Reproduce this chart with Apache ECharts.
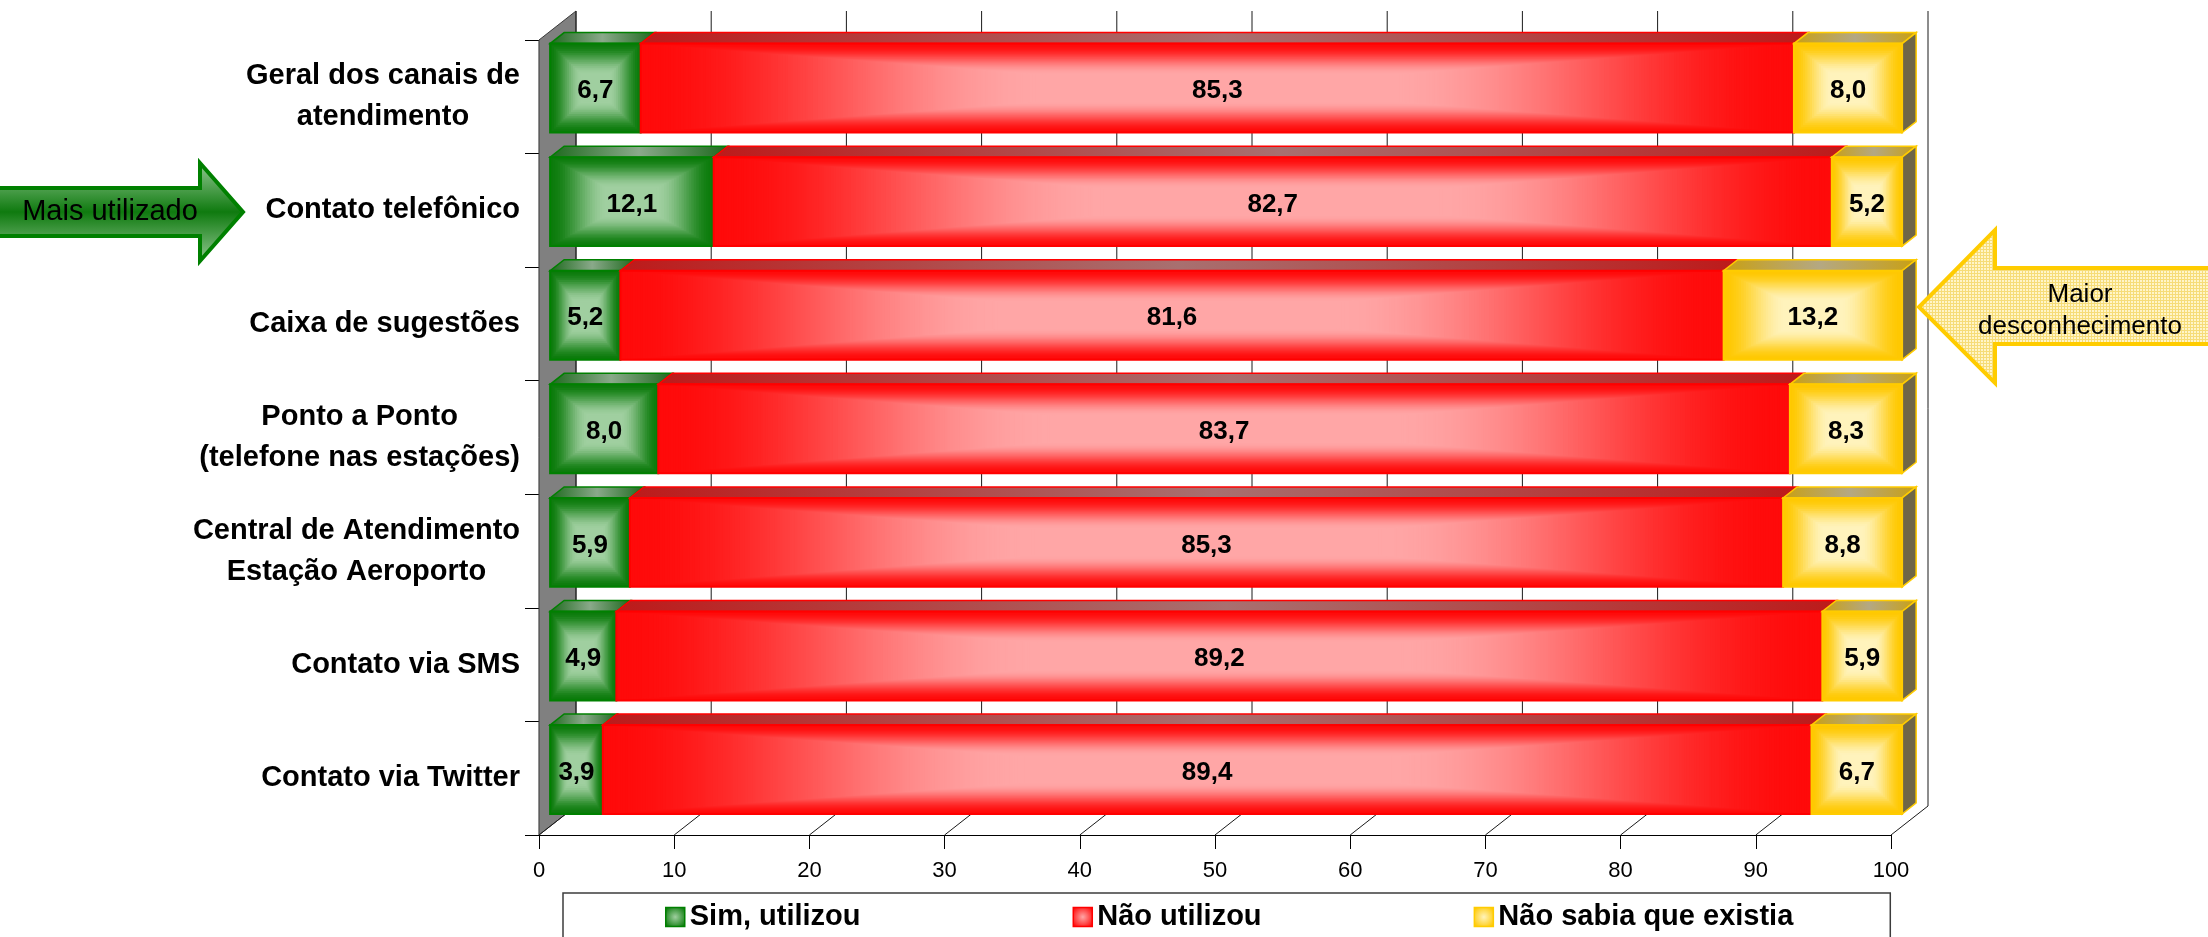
<!DOCTYPE html>
<html>
<head>
<meta charset="utf-8">
<title>Canais de atendimento</title>
<script src="https://cdn.jsdelivr.net/npm/echarts@6.0.0/dist/echarts.min.js"></script>
<style>
  html, body { margin: 0; padding: 0; background: #ffffff; }
  #chart { width: 2208px; height: 937px; }
</style>
</head>
<body>
<div id="chart"></div>
<script>
// ---- data ----
const categories = [
  'Geral dos canais de\natendimento',
  'Contato telefônico',
  'Caixa de sugestões',
  'Ponto a Ponto\n(telefone nas estações)',
  'Central de Atendimento\nEstação Aeroporto',
  'Contato via SMS',
  'Contato via Twitter'
];
const simUtilizou = [6.7, 12.1, 5.2, 8.0, 5.9, 4.9, 3.9];
const naoUtilizou = [85.3, 82.7, 81.6, 83.7, 85.3, 89.2, 89.4];
const naoSabia    = [8.0, 5.2, 13.2, 8.3, 8.8, 5.9, 6.7];
const seriesNames = ['Sim, utilizou', 'Não utilizou', 'Não sabia que existia'];
const xTicks = [0, 10, 20, 30, 40, 50, 60, 70, 80, 90, 100];

// ---- 3D look: depth of the floor/walls and where the bars sit in it ----
const DEPTH_X = 37, DEPTH_Y = -29;
const BAR_FRONT = 0.30, BAR_BACK = 0.68;
const BAR_RATIO = 0.783;
const FONT = '"Liberation Sans", Arial, sans-serif';

const palettes = [
  { edge: '#0b7b0b', light: '#a0cfa0', stroke: '#008000',
    topEnd: '#1d691d', topMid: '#8aa98a' },
  { edge: '#ff0a0a', light: '#ffa6a6', stroke: '#ff0000',
    topEnd: '#bd1a1a', topMid: '#a87070' },
  { edge: '#ffc800', light: '#fff3bc', stroke: '#ffcc00',
    topEnd: '#c9a012', topMid: '#b4a883' }
];

function hexToRgb(h) {
  const n = parseInt(h.slice(1), 16);
  return [(n >> 16) & 255, (n >> 8) & 255, n & 255];
}
function mix(a, b, t) {
  const A = hexToRgb(a), B = hexToRgb(b);
  return 'rgb(' + A.map((v, i) => Math.round(v + (B[i] - v) * t)).join(',') + ')';
}

// rectangular ("pillow") gradient built from nested rectangles
function pillow(x, y, w, h, edge, light) {
  const steps = Math.max(24, Math.ceil(Math.max(w, h) / 5));
  const out = [];
  for (let i = 0; i < steps; i++) {
    const t = i / steps;
    const ix = t * w / 2, iy = t * h / 2;
    let f = Math.min(1, (t + 0.5 / steps) / 0.7);
    f = f * f * (3 - 2 * f);
    out.push({
      type: 'rect',
      shape: { x: x + ix, y: y + iy, width: w - 2 * ix, height: h - 2 * iy },
      style: { fill: mix(edge, light, f) }
    });
    if (f >= 1) break;
  }
  return out;
}

function fmt(v) { return v.toFixed(1).replace('.', ','); }

// stacked segments: [row, start, value]
const seriesValues = [simUtilizou, naoUtilizou, naoSabia];
const segData = seriesValues.map((vals, k) =>
  vals.map((v, i) => {
    let start = 0;
    for (let j = 0; j < k; j++) start += seriesValues[j][i];
    return [i, start, v];
  })
);

function makeSegmentRenderer(k) {
  const pal = palettes[k];
  const isLast = k === seriesValues.length - 1;
  return function (params, api) {
    const row = api.value(0), start = api.value(1), val = api.value(2);
    const p0 = api.coord([start, row]);
    const p1 = api.coord([start + val, row]);
    const band = api.size([0, 1])[1];
    const h = band * BAR_RATIO;
    const fx = DEPTH_X * BAR_FRONT, fy = DEPTH_Y * BAR_FRONT;
    const bx = DEPTH_X * (BAR_BACK - BAR_FRONT), by = DEPTH_Y * (BAR_BACK - BAR_FRONT);
    const x0 = p0[0] + fx, x1 = p1[0] + fx;
    const yc = p0[1] + fy, yt = yc - h / 2, yb = yc + h / 2;
    const w = x1 - x0;
    const children = [];
    // top face
    children.push({
      type: 'polygon',
      shape: { points: [[x0, yt], [x1, yt], [x1 + bx, yt + by], [x0 + bx, yt + by]] },
      style: {
        fill: { type: 'linear', x: 0, y: 0, x2: 1, y2: 0, colorStops: [
          { offset: 0, color: pal.topEnd },
          { offset: 0.5, color: pal.topMid },
          { offset: 1, color: pal.topEnd }
        ] },
        stroke: pal.stroke, lineWidth: 1.5
      }
    });
    // right side face (only visible at the end of the stack)
    if (isLast) {
      children.push({
        type: 'polygon',
        shape: { points: [[x1, yt], [x1 + bx, yt + by], [x1 + bx, yb + by], [x1, yb]] },
        style: { fill: '#6f6647', stroke: pal.stroke, lineWidth: 1.5 }
      });
    }
    // front face
    pillow(x0, yt, w, h, pal.edge, pal.light).forEach(c => children.push(c));
    children.push({
      type: 'rect',
      shape: { x: x0, y: yt, width: w, height: h },
      style: { fill: 'none', stroke: pal.stroke, lineWidth: 2 }
    });
    // value label
    children.push({
      type: 'text',
      style: {
        text: fmt(val), x: (x0 + x1) / 2, y: yc + 3,
        align: 'center', verticalAlign: 'middle',
        font: 'bold 26px ' + FONT, fill: '#000'
      }
    });
    return { type: 'group', children };
  };
}

// walls, floor and grid drawn from the axis scales
function renderFrame(params, api) {
  const cs = params.coordSys;
  const L = cs.x, T = cs.y, B = cs.y + cs.height;
  const R = api.coord([xTicks[xTicks.length - 1], 0])[0];
  const children = [];
  children.push({
    type: 'polygon',
    shape: { points: [[L, B], [R, B], [R + DEPTH_X, B + DEPTH_Y], [L + DEPTH_X, B + DEPTH_Y]] },
    style: { fill: '#ffffff' }
  });
  children.push({
    type: 'polygon',
    shape: { points: [[L, T], [L + DEPTH_X, T + DEPTH_Y], [L + DEPTH_X, B + DEPTH_Y], [L, B]] },
    style: { fill: '#808080', stroke: '#3a3a3a', lineWidth: 1 }
  });
  xTicks.forEach(v => {
    const x = api.coord([v, 0])[0];
    children.push({
      type: 'line',
      shape: { x1: x + DEPTH_X, y1: T + DEPTH_Y, x2: x + DEPTH_X, y2: B + DEPTH_Y },
      style: { stroke: '#1a1a1a', lineWidth: 1 }
    });
    children.push({
      type: 'line',
      shape: { x1: x, y1: B, x2: x + DEPTH_X, y2: B + DEPTH_Y },
      style: { stroke: '#1a1a1a', lineWidth: 1 }
    });
  });
  return { type: 'group', children };
}

// soft yellow hatch for the callout arrow
const hatch = document.createElement('canvas');
hatch.width = 3; hatch.height = 3;
(function () {
  const g = hatch.getContext('2d');
  g.fillStyle = '#fff5c8'; g.fillRect(0, 0, 3, 3);
  g.fillStyle = '#f6dc78'; g.fillRect(0, 0, 3, 1); g.fillRect(0, 0, 1, 3);
})();

const chart = echarts.init(document.getElementById('chart'), null, { renderer: 'canvas' });

const option = {
  backgroundColor: '#ffffff',
  animation: false,
  grid: { left: 539, top: 40, width: 1352, height: 795, containLabel: false, outerBoundsMode: 'none' },
  xAxis: {
    type: 'value', min: 0, max: 100, interval: 10,
    axisLine: { show: true, lineStyle: { color: '#000', width: 1.2 } },
    axisTick: { show: true, length: 14, lineStyle: { color: '#000' } },
    splitLine: { show: false },
    axisLabel: { fontSize: 22, fontFamily: FONT, color: '#000', margin: 25 }
  },
  yAxis: {
    type: 'category', data: categories, inverse: true,
    axisLine: { show: true, lineStyle: { color: '#000', width: 1.2 } },
    axisTick: { show: true, length: 14, lineStyle: { color: '#000' } },
    splitLine: { show: false },
    axisLabel: {
      margin: 19, align: 'right',
      formatter: v => v.split('\n').map(l => '{c|' + l + '}').join('\n'),
      rich: {
        c: { align: 'center', fontSize: 29, fontWeight: 'bold', fontFamily: FONT,
             color: '#000', lineHeight: 41 }
      }
    }
  },
  legend: {
    left: 563, top: 893,
    padding: [9, 97, 30, 102],
    borderColor: '#3c3c3c', borderWidth: 1.5,
    itemWidth: 19, itemHeight: 19, itemGap: 212,
    textStyle: { fontSize: 29, fontWeight: 'bold', fontFamily: FONT, color: '#000', lineHeight: 30 },
    data: seriesNames.map((n, k) => ({
      name: n, icon: 'rect',
      itemStyle: {
        color: { type: 'radial', x: 0.5, y: 0.5, r: 0.6, colorStops: [
          { offset: 0, color: palettes[k].light }, { offset: 1, color: palettes[k].edge }
        ] },
        borderColor: palettes[k].stroke, borderWidth: 1.5
      }
    }))
  },
  series: [
    {
      type: 'custom', name: 'frame', coordinateSystem: 'cartesian2d',
      silent: true, data: [[0, 0]], encode: { x: 0, y: 1 },
      renderItem: renderFrame, z: 1
    }
  ].concat(seriesNames.map((n, k) => ({
    type: 'custom', name: n, coordinateSystem: 'cartesian2d',
    data: segData[k], encode: { y: 0, x: [1, 2] },
    itemStyle: { color: palettes[k].edge },
    renderItem: makeSegmentRenderer(k), z: 2 + k
  }))),
  graphic: [
    {
      type: 'polygon', z: 100,
      shape: { points: [[-6, 188], [200, 188], [200, 163], [243, 212], [200, 261], [200, 236], [-6, 236]] },
      style: {
        fill: { type: 'linear', x: 0, y: 0, x2: 0, y2: 1, colorStops: [
          { offset: 0, color: '#95ca95' }, { offset: 0.5, color: '#0f7a0f' }, { offset: 1, color: '#95ca95' }
        ] },
        stroke: '#008000', lineWidth: 4
      }
    },
    {
      type: 'text', z: 101,
      style: { text: 'Mais utilizado', x: 110, y: 212, align: 'center', verticalAlign: 'middle',
               font: '29px ' + FONT, fill: '#000' }
    },
    {
      type: 'polygon', z: 100,
      shape: { points: [[2215, 268], [1995, 268], [1995, 230], [1919, 307], [1995, 383], [1995, 344], [2215, 344]] },
      style: { fill: { image: hatch, repeat: 'repeat' }, stroke: '#ffcc00', lineWidth: 4 }
    },
    {
      type: 'text', z: 101,
      style: { text: 'Maior\ndesconhecimento', x: 2080, y: 311, align: 'center', verticalAlign: 'middle',
               font: '26px ' + FONT, lineHeight: 32, fill: '#000' }
    }
  ]
};

chart.setOption(option);
</script>
</body>
</html>
